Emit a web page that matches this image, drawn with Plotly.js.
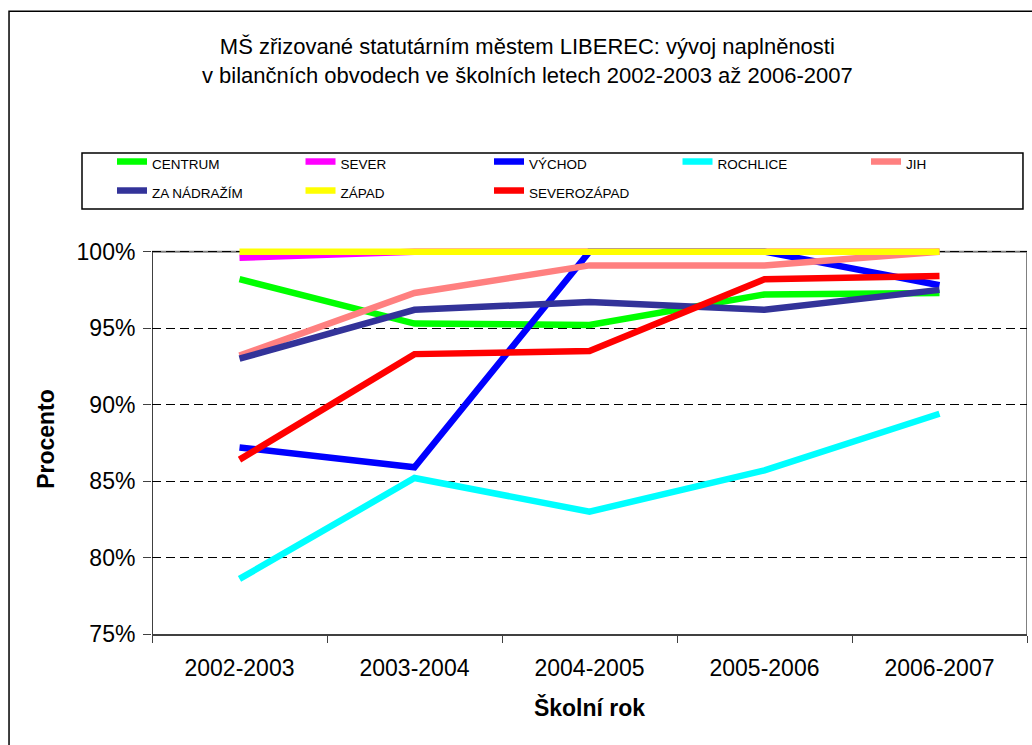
<!DOCTYPE html>
<html>
<head>
<meta charset="utf-8">
<script src="https://cdn.plot.ly/plotly-3.0.1.min.js"></script>
<style>html,body{margin:0;padding:0;background:#fff;}#chart{width:1032px;height:745px;}</style>
</head>
<body>
<div id="chart"></div>
<script>
// ---- data ----
var years = ['2002-2003', '2003-2004', '2004-2005', '2005-2006', '2006-2007'];
var seriesNames = ['CENTRUM', 'SEVER', 'VÝCHOD', 'ROCHLICE', 'JIH', 'ZA NÁDRAŽÍM', 'ZÁPAD', 'SEVEROZÁPAD'];
var centrum     = [98.2, 95.3, 95.2, 97.2, 97.3];
var sever       = [99.6, 100, 100, 100, 100];
var vychod      = [87.2, 85.9, 100, 100, 97.8];
var rochlice    = [78.6, 85.2, 83.0, 85.7, 89.4];
var jih         = [93.2, 97.3, 99.1, 99.1, 100];
var zaNadrazim  = [93.0, 96.2, 96.7, 96.2, 97.5];
var zapad       = [100, 100, 100, 100, 100];
var severozapad = [86.4, 93.3, 93.5, 98.2, 98.4];
var yTickVals = [75, 80, 85, 90, 95, 100];
var yTickText = ['75%', '80%', '85%', '90%', '95%', '100%'];

// ---- styles ----
var seriesValues = [centrum, sever, vychod, rochlice, jih, zaNadrazim, zapad, severozapad];
var seriesColors = ['#00FF00', '#FF00FF', '#0000FF', '#00FFFF', '#FF8080', '#333399', '#FFFF00', '#FF0000'];
var FONT = 'Liberation Sans, Arial, sans-serif';

var traces = seriesNames.map(function (name, i) {
  var t = {
    type: 'scatter',
    mode: 'lines',
    x: years,
    y: seriesValues[i],
    name: '<span style="font-size:13.5px">' + name + '</span>',
    line: { color: seriesColors[i], width: 6.5 },
    hoverinfo: 'x+y+name'
  };
  if (i === 4) t.legendwidth = 40; // last legend column: keep the legend inside the figure
  return t;
});

var layout = {
  width: 1032,
  height: 745,
  paper_bgcolor: '#ffffff',
  plot_bgcolor: '#ffffff',
  margin: { l: 152, r: 5, t: 244, b: 111 },
  font: { family: FONT, color: '#000' },
  showlegend: true,
  title: {
    text: 'MŠ zřizované statutárním městem LIBEREC: vývoj naplněnosti<br>v bilančních obvodech ve školních letech 2002-2003 až 2006-2007',
    font: { family: FONT, size: 22, color: '#000' },
    x: 0.511, xanchor: 'center',
    y: 1 - 54 / 745, yanchor: 'top',
    xref: 'container', yref: 'container'
  },
  legend: {
    orientation: 'h',
    x: -0.0457, xanchor: 'left',
    y: 1.2615, yanchor: 'top',
    font: { family: FONT, size: 20, color: '#000' },
    entrywidth: 143.5,
    entrywidthmode: 'pixels',
    borderwidth: 0,
    bgcolor: 'rgba(0,0,0,0)',
    traceorder: 'normal'
  },
  xaxis: {
    type: 'category',
    range: [-0.5, 4.5],
    tickson: 'boundaries',
    ticks: 'outside',
    ticklen: 7,
    tickcolor: '#404040',
    tickwidth: 1,
    ticklabelstandoff: 12,
    showline: true,
    linecolor: '#404040',
    linewidth: 2,
    showgrid: false,
    zeroline: false,
    tickfont: { family: FONT, size: 23, color: '#000' },
    title: { text: '<b>Školní rok</b>', standoff: 20, font: { family: FONT, size: 23, color: '#000' } }
  },
  yaxis: {
    range: [75, 100.5],
    tickvals: yTickVals,
    ticktext: yTickText,
    ticks: 'outside',
    ticklen: 8,
    tickcolor: '#404040',
    tickwidth: 1,
    ticklabelstandoff: 3,
    showline: false,
    showgrid: true,
    gridcolor: '#000000',
    gridwidth: 1,
    griddash: '9px,5px',
    zeroline: false,
    tickfont: { family: FONT, size: 23, color: '#000' },
    title: { text: '<b>Procento</b>', standoff: 15, font: { family: FONT, size: 23, color: '#000' } }
  },
  shapes: [
    // outer chart frame
    { type: 'rect', xref: 'paper', yref: 'paper', x0: -0.1634, x1: 1.05, y0: -0.5, y1: 1.597,
      line: { color: '#000', width: 1.5 }, fillcolor: 'rgba(0,0,0,0)', layer: 'below' },
    // legend box
    { type: 'rect', xref: 'paper', yref: 'paper', x0: -0.08, x1: 0.9954, y0: 1.0897, y1: 1.2333,
      line: { color: '#000', width: 1.5 }, fillcolor: 'rgba(0,0,0,0)', layer: 'below' },
    // plot area border: top & right grey, left dark
    { type: 'line', xref: 'x', yref: 'y', x0: -0.5, x1: 4.5, y0: 100, y1: 100,
      line: { color: '#808080', width: 2 }, layer: 'below' },
    { type: 'line', xref: 'x', yref: 'y', x0: 4.5, x1: 4.5, y0: 75, y1: 100,
      line: { color: '#808080', width: 2 }, layer: 'below' },
    { type: 'line', xref: 'x', yref: 'y', x0: -0.5, x1: -0.5, y0: 75, y1: 100,
      line: { color: '#404040', width: 2 }, layer: 'below' }
  ]
};

Plotly.newPlot('chart', traces, layout, { displayModeBar: false, responsive: false });
</script>
</body>
</html>
